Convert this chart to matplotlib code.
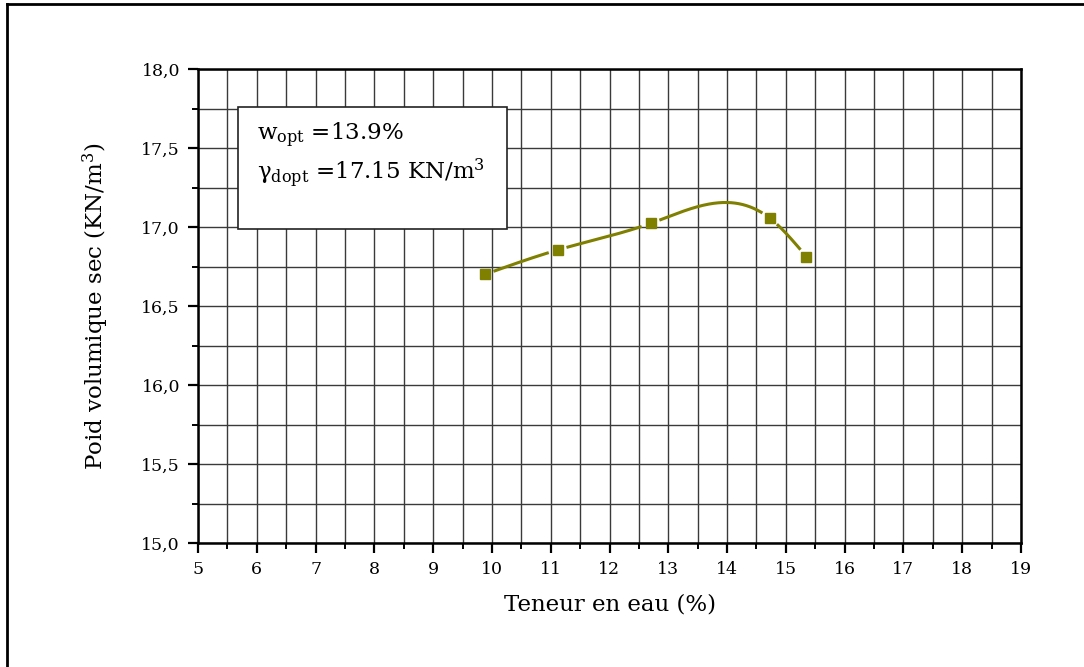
import numpy as np
import matplotlib
matplotlib.use("Agg")
import matplotlib.pyplot as plt
from matplotlib.patches import Rectangle
from matplotlib.lines import Line2D

plt.rcParams['font.family'] = ['DejaVu Serif']
plt.rcParams['mathtext.fontset'] = 'custom'
plt.rcParams['mathtext.rm'] = 'DejaVu Serif'
plt.rcParams['mathtext.it'] = 'DejaVu Serif'

# Data
teneur = [9.88, 11.12, 12.70, 14.73, 15.35]
poids = [16.70, 16.855, 17.023, 17.055, 16.812]
x_ticks = list(range(5, 20))
y_ticks = [15.0, 15.5, 16.0, 16.5, 17.0, 17.5, 18.0]
y_ticklabels = ["15,0", "15,5", "16,0", "16,5", "17,0", "17,5", "18,0"]
box_lines = [r"w$_{\mathrm{opt}}$ =13.9%", r"γ$_{\mathrm{dopt}}$ =17.15 KN/m$^{3}$"]
color = "#808000"


def natural_spline(x, y, xs):
    x = np.asarray(x, float); y = np.asarray(y, float)
    n = len(x)
    h = np.diff(x)
    A = np.zeros((n, n)); b = np.zeros(n)
    A[0, 0] = 1; A[-1, -1] = 1
    for i in range(1, n - 1):
        A[i, i - 1] = h[i - 1]
        A[i, i] = 2 * (h[i - 1] + h[i])
        A[i, i + 1] = h[i]
        b[i] = 3 * ((y[i + 1] - y[i]) / h[i] - (y[i] - y[i - 1]) / h[i - 1])
    c = np.linalg.solve(A, b)
    out = np.empty_like(xs)
    for k, xv in enumerate(xs):
        i = min(max(np.searchsorted(x, xv) - 1, 0), n - 2)
        dx = xv - x[i]
        bi = (y[i + 1] - y[i]) / h[i] - h[i] * (2 * c[i] + c[i + 1]) / 3
        di = (c[i + 1] - c[i]) / (3 * h[i])
        out[k] = y[i] + bi * dx + c[i] * dx ** 2 + di * dx ** 3
    return out


fig = plt.figure(figsize=(10.84, 6.67), dpi=100)
ax = fig.add_axes([198 / 1084, 1 - 543 / 667, 823 / 1084, 474 / 667])

ax.set_xlim(5, 19)
ax.set_ylim(15, 18)
ax.set_xticks(x_ticks)
ax.set_xticks(np.arange(5.5, 19, 1.0), minor=True)
ax.set_yticks(y_ticks)
ax.set_yticklabels(y_ticklabels)
ax.set_yticks(np.arange(15.25, 18, 0.5), minor=True)
ax.grid(True, which='both', color='#3a3a3a', linewidth=1.0)
ax.set_axisbelow(True)
for s in ax.spines.values():
    s.set_linewidth(1.8)
ax.tick_params(which='major', direction='out', length=7, width=1.6, labelsize=12.5, pad=6)
ax.tick_params(which='minor', direction='out', length=4, width=1.4)

# spline curve with gaps around markers
xs = np.linspace(teneur[0], teneur[-1], 600)
ys = natural_spline(teneur, poids, xs)
fig.canvas.draw()
pts = ax.transData.transform(np.column_stack([xs, ys]))
mk = ax.transData.transform(np.column_stack([teneur, poids]))
mask = np.ones(len(xs), bool)
for m in mk:
    d = np.hypot(pts[:, 0] - m[0], pts[:, 1] - m[1])
    mask &= d > 9
ys_plot = np.where(mask, ys, np.nan)
ax.plot(xs, ys_plot, color=color, linewidth=2.2, solid_capstyle='butt')
ax.plot(teneur, poids, linestyle='none', marker='s', markersize=6.5, color=color)

# text box
ax.add_patch(Rectangle((40 / 823, 1 - 160 / 474), 269 / 823, 122 / 474, transform=ax.transAxes,
                       facecolor='white', edgecolor='#222222', linewidth=1.2, zorder=5))
ax.text(59 / 823, 1 - 71 / 474, box_lines[0], transform=ax.transAxes, fontsize=16.5, zorder=6, va='baseline')
ax.text(59 / 823, 1 - 111 / 474, box_lines[1], transform=ax.transAxes, fontsize=16.5, zorder=6, va='baseline')

ax.set_xlabel("Teneur en eau (%)", fontsize=16.5, labelpad=11)
ax.set_ylabel(r"Poid volumique sec (KN/m$^{3}$)", fontsize=16.5, labelpad=22)

# outer frame lines (top and left)
fig.add_artist(Line2D([7 / 1084, 1], [1 - 4 / 667, 1 - 4 / 667], transform=fig.transFigure, color='black', linewidth=2))
fig.add_artist(Line2D([7 / 1084, 7 / 1084], [0, 1 - 4 / 667], transform=fig.transFigure, color='black', linewidth=2))

fig.savefig("out.png", dpi=100, facecolor='white')
